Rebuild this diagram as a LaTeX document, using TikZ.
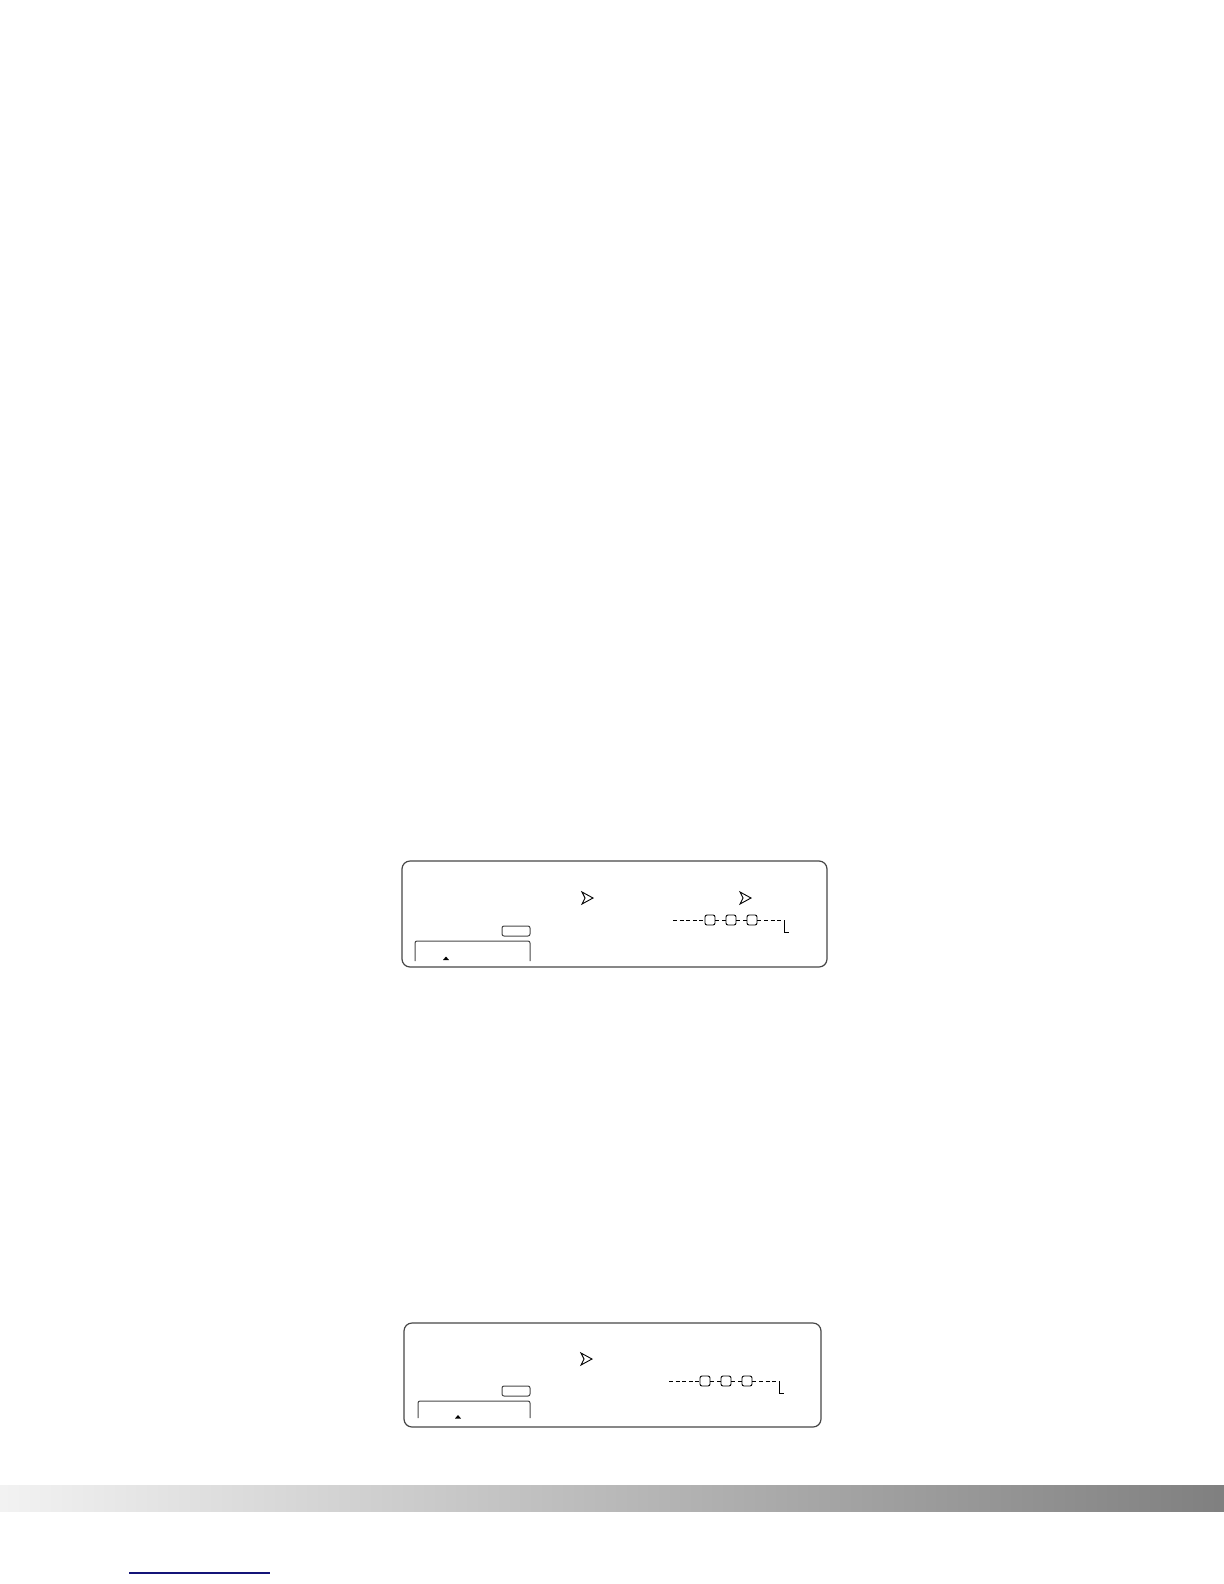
\documentclass[tikz,border=0pt]{standalone}
\usetikzlibrary{calc}
\definecolor{linkblue}{RGB}{20,20,120}
\definecolor{frame}{RGB}{70,70,70}
\begin{document}
\begin{tikzpicture}[x=0.5pt,y=-0.5pt,
  panel/.style={draw=frame,line width=0.6pt,rounded corners=4pt},
  tinybox/.style={draw=frame,line width=0.5pt,rounded corners=1pt},
  bracketline/.style={draw=frame,line width=0.5pt,rounded corners=1pt},
  chain/.style={draw=black,line width=0.45pt,dash pattern=on 2pt off 1.3pt},
  sq/.style={draw=black,line width=0.45pt,rounded corners=1pt,minimum width=5pt,minimum height=5pt,inner sep=0pt,fill=white},
  arrowmark/.style={draw=black,line width=0.45pt,line join=miter},
  tipmark/.style={fill=black}]
\useasboundingbox (0,0) rectangle (1224,1584);
% ---------- first panel ----------
\draw[panel] (402,861) rectangle (827,967);
\draw[tinybox] (502,926) rectangle (530,936);
\draw[bracketline] (415,961) -- (415,941) -- (530,941) -- (530,961);
\fill[tipmark] (443,960) -- (446,956.5) -- (449,960) -- cycle;
\draw[arrowmark] (582,892) -- (593,898) -- (582,904) -- (585,898) -- cycle;
\draw[arrowmark] (740,892) -- (751,898) -- (740,904) -- (743,898) -- cycle;
\coordinate (a0) at (673,920);
\node[sq] (a1) at (710,920) {};
\node[sq] (a2) at (731,920) {};
\node[sq] (a3) at (752,920) {};
\coordinate (a4) at (784,920);
\coordinate (a5) at (784,932);
\coordinate (a6) at (789,932);
\draw[chain] (a0) -- (a1.west);
\draw[chain] (a1.east) -- (a2.west);
\draw[chain] (a2.east) -- (a3.west);
\draw[chain] (a3.east) -- (a4);
\draw[line width=0.5pt] (a4) -- (a5) -- (a6);
% ---------- second panel ----------
\draw[panel] (404,1323) rectangle (821,1427);
\draw[tinybox] (502,1386) rectangle (530,1396);
\draw[bracketline] (418,1418) -- (418,1401) -- (530,1401) -- (530,1418);
\fill[tipmark] (455,1418.5) -- (458,1415) -- (461,1418.5) -- cycle;
\draw[arrowmark] (581,1353) -- (592,1359) -- (581,1365) -- (584,1359) -- cycle;
\coordinate (b0) at (669,1381);
\node[sq] (b1) at (705,1381) {};
\node[sq] (b2) at (726,1381) {};
\node[sq] (b3) at (747,1381) {};
\coordinate (b4) at (779,1381);
\coordinate (b5) at (779,1393);
\coordinate (b6) at (784,1393);
\draw[chain] (b0) -- (b1.west);
\draw[chain] (b1.east) -- (b2.west);
\draw[chain] (b2.east) -- (b3.west);
\draw[chain] (b3.east) -- (b4);
\draw[line width=0.5pt] (b4) -- (b5) -- (b6);
% ---------- footer ----------
\shade[left color=black!5,right color=black!50] (0,1485) rectangle (1224,1511);
\draw[linkblue,line width=0.8pt] (129,1573) -- (270,1573);
\end{tikzpicture}
\end{document}
